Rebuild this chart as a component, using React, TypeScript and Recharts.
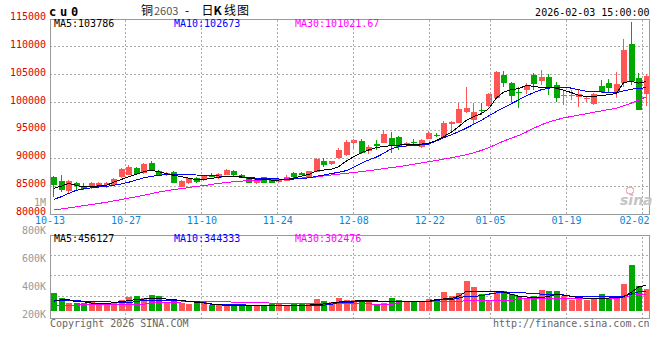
import React from 'react';
import { ComposedChart, Bar, Line, XAxis, YAxis, CartesianGrid, ReferenceLine } from 'recharts';

const MONO = "'DejaVu Sans Mono', 'Liberation Mono', monospace";
const CJK = "'Noto Sans CJK SC', sans-serif";
const RED = '#ff5555';
const GREEN = '#00a800';
const GRID = '#aaaaaa';
const BORDER = '#999999';

const dates = [
  '10-13','10-14','10-15','10-16','10-17','10-20','10-21','10-22','10-23','10-24',
  '10-27','10-28','10-29','10-30','10-31','11-03','11-04','11-05','11-06','11-07',
  '11-10','11-11','11-12','11-13','11-14','11-17','11-18','11-19','11-20','11-21',
  '11-24','11-25','11-26','11-27','11-28','12-01','12-02','12-03','12-04','12-05',
  '12-08','12-09','12-10','12-11','12-12','12-15','12-16','12-17','12-18','12-19',
  '12-22','12-23','12-24','12-25','12-26','12-29','12-30','12-31',
  '01-05','01-06','01-07','01-08','01-09','01-12','01-13','01-14','01-15','01-16',
  '01-19','01-20','01-21','01-22','01-23','01-26','01-27','01-28','01-29','01-30',
  '02-02','02-03',
];

const opens = [
  86700, 85980, 84190, 85560, 85020, 84790, 85020, 85140, 85140, 86580,
  87060, 88260, 87300, 89210, 87780, 87060, 87480, 84900, 85500, 86460,
  86100, 87060, 86460, 87060, 87780, 87000, 86460, 85620, 86580, 86220,
  85800, 85980, 87300, 87360, 86700, 87600, 89510, 88950, 90050, 90590,
  92680, 93100, 91370, 92560, 92800, 93700, 93760, 92320, 92980, 91970,
  93460, 94180, 93880, 96150, 96390, 98250, 96870, 98670, 99380, 100760,
  104950, 103450, 101900, 102260, 104950, 103930, 104650, 103150, 101180, 101180,
  101060, 100760, 99680, 102970, 103570, 101840, 103450, 110510, 104470, 101480,
];
const highs = [
  86900, 87060, 86100, 85740, 85620, 85680, 85800, 85740, 86400, 88200,
  88730, 88500, 89090, 89570, 87900, 87600, 87660, 86100, 86520, 86580,
  87000, 87300, 87300, 88020, 87900, 87120, 86580, 86460, 86700, 86460,
  86400, 87000, 87540, 87480, 87780, 90050, 89990, 89600, 91790, 93280,
  93520, 93400, 92380, 93280, 95080, 94780, 94000, 92980, 93520, 93520,
  94960, 94480, 96750, 96750, 99980, 102850, 99980, 99980, 101660, 105670,
  105730, 103750, 102730, 103450, 105250, 105850, 105070, 103750, 102260, 102260,
  102260, 101260, 101780, 104050, 104230, 105550, 111410, 114520, 105250, 105070,
];
const lows = [
  83100, 84000, 83830, 84310, 84310, 84430, 84670, 84610, 85020, 86400,
  86940, 87060, 87180, 87780, 86820, 86900, 85500, 84790, 85380, 85500,
  85980, 86580, 86340, 86940, 86820, 86600, 85500, 85440, 85500, 85500,
  85620, 85860, 86460, 86940, 86580, 87540, 88490, 88800, 89930, 90410,
  91790, 90770, 90710, 91490, 92680, 90890, 91490, 92080, 92200, 91790,
  93400, 93760, 93580, 94480, 96270, 98070, 95970, 97770, 99260, 100640,
  102850, 100160, 98970, 101500, 102260, 103150, 101360, 100040, 99560, 100460,
  99260, 100040, 99500, 101660, 101960, 100760, 102850, 103150, 98600, 99450,
];
const closes = [
  85200, 84310, 85860, 85020, 84550, 85500, 85620, 85620, 86220, 88020,
  88380, 87180, 88970, 87900, 87060, 87420, 85620, 85980, 86400, 85800,
  86820, 86700, 87120, 87840, 86940, 86700, 85620, 86340, 85620, 85620,
  86340, 86700, 86580, 87060, 87720, 89870, 88790, 89450, 91490, 92980,
  93280, 91010, 92080, 92200, 94360, 92380, 91970, 92800, 92680, 93280,
  94600, 94000, 96390, 96570, 98900, 99030, 98370, 98490, 101600, 105550,
  103450, 101180, 101660, 102970, 103330, 104530, 102850, 100880, 101360, 101360,
  101540, 100880, 101540, 101960, 102680, 103330, 109440, 103870, 98670, 104770,
];
const volumesK = [
  320, 231, 142, 142, 142, 167, 119, 142, 142, 190,
  249, 261, 225, 279, 261, 142, 202, 142, 119, 142,
  160, 101, 101, 83, 131, 101, 101, 89, 101, 131,
  131, 89, 131, 131, 131, 208, 178, 160, 238, 202,
  202, 202, 190, 131, 142, 238, 202, 160, 160, 172,
  220, 160, 332, 261, 320, 527, 421, 309, 202, 332,
  350, 309, 261, 238, 261, 368, 350, 350, 261, 190,
  238, 190, 220, 297, 238, 261, 474, 812, 439, 398,
];
const ma5 = [
  84600, 85000, 85500, 85150, 84850, 84900, 85050, 85150, 85700, 86200,
  86700, 87150, 87600, 87850, 87600, 87250, 86950, 86700, 86450, 86150,
  86200, 86400, 86580, 86800, 86820, 86650, 86400, 86250, 86150, 86100,
  86100, 86150, 86450, 86800, 87100, 87700, 87900, 88000, 88500, 89500,
  90300, 91000, 91500, 91900, 92150, 92250, 92380, 92400, 92480, 92550,
  92700, 93200, 93900, 94700, 95700, 96800, 97500, 98000, 98900, 100800,
  101900, 102300, 102500, 103100, 102900, 102700, 102700, 102600, 102200, 101800,
  101300, 101100, 101100, 101300, 101400, 101650, 103600, 103800, 103500, 103786,
];
const ma10 = [
  82630, 83100, 83700, 84250, 84500, 84700, 84850, 84950, 85150, 85400,
  85700, 86100, 86500, 86750, 86950, 87050, 87120, 87100, 87050, 87000,
  86950, 86880, 86820, 86760, 86700, 86620, 86550, 86450, 86350, 86300,
  86280, 86270, 86280, 86350, 86500, 86750, 87000, 87250, 87500, 87780,
  88400, 89100, 89700, 90200, 90900, 91700, 92050, 92200, 92300, 92400,
  92550, 93100, 93700, 94200, 94800, 95400, 96100, 96800, 97600, 98400,
  99100, 99800, 100500, 101200, 101800, 102300, 102600, 102700, 102750, 102600,
  102300, 102050, 101950, 101900, 101850, 101800, 102100, 102400, 102550, 102673,
];
const ma30 = [
  80700, 80900, 81100, 81300, 81500, 81700, 81900, 82100, 82350, 82600,
  82850, 83100, 83350, 83650, 83950, 84150, 84400, 84550, 84750, 84950,
  85100, 85300, 85500, 85650, 85800, 85900, 85980, 86050, 86120, 86180,
  86220, 86300, 86400, 86450, 86520, 86650, 86850, 87000, 87150, 87300,
  87450, 87600, 87780, 87950, 88150, 88330, 88500, 88700, 88950, 89150,
  89400, 89600, 89850, 90100, 90350, 90650, 91000, 91400, 91900, 92500,
  93100, 93600, 94100, 94700, 95400, 96000, 96500, 96900, 97250, 97500,
  97750, 98000, 98250, 98500, 98750, 99000, 99400, 99900, 100450, 101022,
];
const vma5K = [
  172, 202, 202, 160, 165, 142, 140, 131, 150, 167,
  185, 202, 213, 220, 220, 213, 202, 185, 172, 155,
  142, 125, 110, 101, 101, 101, 101, 95, 92, 89,
  89, 92, 95, 100, 105, 113, 125, 142, 160, 160,
  175, 190, 190, 180, 165, 160, 160, 165, 168, 172,
  172, 202, 215, 220, 261, 350, 350, 350, 350, 345,
  340, 297, 260, 249, 245, 238, 260, 297, 280, 261,
  238, 225, 213, 220, 231, 240, 249, 330, 430, 456,
];
const vma10K = [
  190, 190, 190, 190, 172, 172, 172, 172, 154, 154,
  154, 165, 190, 190, 190, 190, 190, 190, 172, 172,
  150, 119, 119, 119, 119, 119, 101, 101, 101, 101,
  101, 101, 101, 101, 105, 105, 105, 119, 148, 148,
  160, 167, 167, 167, 167, 167, 167, 167, 167, 167,
  167, 190, 202, 205, 230, 261, 261, 270, 300, 320,
  320, 320, 320, 320, 310, 300, 297, 297, 285, 261,
  261, 261, 261, 255, 249, 249, 265, 300, 340, 344,
];
const vma30K = [
  101, 101, 101, 101, 119, 119, 119, 119, 119, 119,
  119, 119, 119, 148, 148, 148, 148, 160, 160, 160,
  160, 160, 172, 172, 154, 154, 154, 154, 154, 137,
  137, 137, 137, 137, 137, 137, 137, 131, 131, 131,
  131, 131, 131, 113, 113, 113, 160, 160, 160, 160,
  160, 160, 160, 160, 160, 190, 190, 190, 190, 190,
  190, 190, 220, 220, 220, 220, 220, 220, 220, 220,
  220, 220, 220, 220, 220, 220, 240, 275, 295, 302,
];

const priceTicks = [80000, 85000, 90000, 95000, 100000, 105000, 110000, 115000];
const volTicks = [200000, 400000, 600000, 800000, 1000000];
const dateLabels = ['10-13', '10-27', '11-10', '11-24', '12-08', '12-22', '01-05', '01-19', '02-02'];
const labelIdx = dateLabels.map((s) => dates.indexOf(s));
const gridIdx = labelIdx.filter((k) => k > 0);

const data = dates.map((d, i) => ({
  d,
  o: opens[i],
  h: highs[i],
  l: lows[i],
  c: closes[i],
  hl: [lows[i], highs[i]],
  v: volumesK[i] * 1000,
  ma5: ma5[i],
  ma10: ma10[i],
  ma30: ma30[i],
  vma5: vma5K[i] * 1000,
  vma10: vma10K[i] * 1000,
  vma30: vma30K[i] * 1000,
}));

const Candle = (props: any) => {
  let { x, y, width, height, payload } = props;
  if (height < 0) { y = y + height; height = -height; }
  const { o, h, l, c } = payload;
  const color = c >= o ? RED : GREEN;
  const span = h - l;
  const ppu = span > 0 ? height / span : 0;
  const yOf = (p: number) => y + (h - p) * ppu;
  const top = yOf(Math.max(o, c));
  const bot = yOf(Math.min(o, c));
  const left = Math.round(x);
  const cx = left + Math.floor(width / 2) - 1;
  return (
    <g>
      <rect x={cx} y={y} width={1} height={Math.max(height, 1)} fill={color} />
      <rect x={left} y={top} width={width} height={Math.max(bot - top, 1)} fill={color} />
    </g>
  );
};

const VolBar = (props: any) => {
  const { x, y, width, height, payload } = props;
  return <rect x={Math.round(x)} y={y} width={width} height={height} fill={payload.c >= payload.o ? RED : GREEN} />;
};

const PriceTick = (p: any) => (
  <text x={p.x} y={p.y + 1} textAnchor="end" fontFamily={MONO} fontSize={10} fill="#e00000">
    {p.payload.value}
  </text>
);

const VolTick = (p: any) => {
  const v = p.payload.value;
  const s = v >= 1000000 ? `${v / 1000000}M` : `${v / 1000}K`;
  return (
    <text x={p.x} y={p.y + 1} textAnchor="end" fontFamily={MONO} fontSize={10} fill="#999999">
      {s}
    </text>
  );
};

const DATE_BASELINE = 224;
const DateTick = (p: any) => {
  const label = dates[p.payload.value];
  const atEnd = p.x + 15 > 650;
  return (
    <text x={atEnd ? 649.5 : p.x} y={DATE_BASELINE} textAnchor={atEnd ? 'end' : 'middle'} fontFamily={MONO} fontSize={10} fill="#0a86d8">
      {label}
    </text>
  );
};

export default function App() {
  return (
    <div style={{ position: 'absolute', left: 0, top: 0, width: 660, height: 360, background: '#fff', overflow: 'hidden', shapeRendering: 'crispEdges' as any }}>
      <div style={{ position: 'absolute', left: 0, top: 0 }}>
        <ComposedChart width={660} height={240} data={data} margin={{ top: 19, right: 10, bottom: 0, left: 0 }}>
          <XAxis xAxisId="c" dataKey="d" type="category" hide />
          <XAxis xAxisId="g" type="number" domain={[0, 79]} ticks={labelIdx} interval={0} allowDataOverflow
            height={26} tickLine={false} axisLine={false} tickSize={0} tickMargin={0} tick={<DateTick />} />
          <YAxis yAxisId="p" domain={[80000, 115000]} ticks={priceTicks} interval={0} allowDataOverflow width={50}
            tickLine={false} axisLine={false} tickSize={0} tickMargin={4} tick={<PriceTick />} />
          <CartesianGrid xAxisId="c" yAxisId="p" vertical={false} stroke={GRID} strokeDasharray="2 2" />
          {gridIdx.map((k) => (
            <ReferenceLine key={k} xAxisId="g" yAxisId="p" x={k} stroke={GRID} strokeDasharray="2 2" />
          ))}
          <Bar xAxisId="c" yAxisId="p" dataKey="hl" barSize={6} shape={(p: any) => <Candle {...p} />} isAnimationActive={false} />
          <Line xAxisId="c" yAxisId="p" dataKey="ma30" stroke="#ff00ff" strokeWidth={1} dot={false} isAnimationActive={false} />
          <Line xAxisId="c" yAxisId="p" dataKey="ma10" stroke="#0000ff" strokeWidth={1} dot={false} isAnimationActive={false} />
          <Line xAxisId="c" yAxisId="p" dataKey="ma5" stroke="#000000" strokeWidth={1} dot={false} isAnimationActive={false} />
        </ComposedChart>
      </div>
      <div style={{ position: 'absolute', left: 0, top: 0 }}>
        <ComposedChart width={660} height={360} data={data} margin={{ top: 235, right: 10, bottom: 41, left: 0 }}>
          <XAxis xAxisId="c" dataKey="d" type="category" hide />
          <XAxis xAxisId="g" type="number" domain={[0, 79]} allowDataOverflow hide />
          <YAxis yAxisId="lbl" domain={[182900, 782900]} ticks={volTicks} interval={0} allowDataOverflow width={50}
            tickLine={false} axisLine={false} tickSize={0} tickMargin={4} tick={<VolTick />} />
          <YAxis yAxisId="v" domain={[-142000, 1350000]} allowDataOverflow hide />
          <CartesianGrid xAxisId="c" yAxisId="v" vertical={false} stroke={GRID} strokeDasharray="2 2"
            horizontalCoordinatesGenerator={({ offset }: any) => [offset.top + 20, offset.top + 40.5, offset.top + 61]} />
          {gridIdx.map((k) => (
            <ReferenceLine key={k} xAxisId="g" yAxisId="v" x={k} stroke={GRID} strokeDasharray="2 2" />
          ))}
          <Bar xAxisId="c" yAxisId="v" dataKey="v" barSize={6} shape={(p: any) => <VolBar {...p} />} isAnimationActive={false} />
          <Line xAxisId="c" yAxisId="v" dataKey="vma30" stroke="#ff00ff" strokeWidth={1} dot={false} isAnimationActive={false} />
          <Line xAxisId="c" yAxisId="v" dataKey="vma10" stroke="#0000ff" strokeWidth={1} dot={false} isAnimationActive={false} />
          <Line xAxisId="c" yAxisId="v" dataKey="vma5" stroke="#000000" strokeWidth={1} dot={false} isAnimationActive={false} />
        </ComposedChart>
      </div>
      <div style={{ position: 'absolute', left: 50, top: 19, width: 600, height: 196, boxSizing: 'border-box', border: `1px solid ${BORDER}`, pointerEvents: 'none' }} />
      <div style={{ position: 'absolute', left: 50, top: 235, width: 600, height: 84, boxSizing: 'border-box', border: `1px solid ${BORDER}`, pointerEvents: 'none' }} />
      <svg width={660} height={360} style={{ position: 'absolute', left: 0, top: 0, pointerEvents: 'none' }}>
        <text x={49} y={16} fontFamily={MONO} fontWeight="bold" fontSize={12} letterSpacing={3.8} fill="#000">cu0</text>
        <text y={15} fontFamily={CJK} fontSize={12} fill="#000">
          <tspan x={141}>铜</tspan>
          <tspan x={154} fontSize={11} fill="#555">2603</tspan>
          <tspan x={185}>-</tspan>
          <tspan x={201.5}>日</tspan>
          <tspan x={213.5} fontWeight="bold">K</tspan>
          <tspan x={224}>线</tspan>
          <tspan x={237}>图</tspan>
        </text>
        <text x={649.5} y={16} textAnchor="end" fontFamily={MONO} fontSize={10} fill="#000">2026-02-03 15:00:00</text>
        <text x={54} y={27} fontFamily={MONO} fontSize={10} fill="#000">MA5:103786</text>
        <text x={174} y={27} fontFamily={MONO} fontSize={10} fill="#0000ff">MA10:102673</text>
        <text x={295} y={27} fontFamily={MONO} fontSize={10} fill="#ff00ff">MA30:101021.67</text>
        <text x={54} y={241.5} fontFamily={MONO} fontSize={10} fill="#000">MA5:456127</text>
        <text x={174} y={241.5} fontFamily={MONO} fontSize={10} fill="#0000ff">MA10:344333</text>
        <text x={295} y={241.5} fontFamily={MONO} fontSize={10} fill="#ff00ff">MA30:302476</text>
        <text x={50} y={327} fontFamily={MONO} fontSize={10} fill="#666">Copyright 2026 SINA.COM</text>
        <text x={649.5} y={327} textAnchor="end" fontFamily={MONO} fontSize={10} fill="#666">http://finance.sina.com.cn</text>
        <circle cx={630} cy={190.5} r={3.5} fill="none" stroke="#f4b0b0" strokeWidth={1.5} />
        <text x={620} y={205} fontFamily="'DejaVu Sans', sans-serif" fontStyle="italic" fontWeight="bold" fontSize={14} fill="#c4c4c4">sina</text>
      </svg>
    </div>
  );
}
